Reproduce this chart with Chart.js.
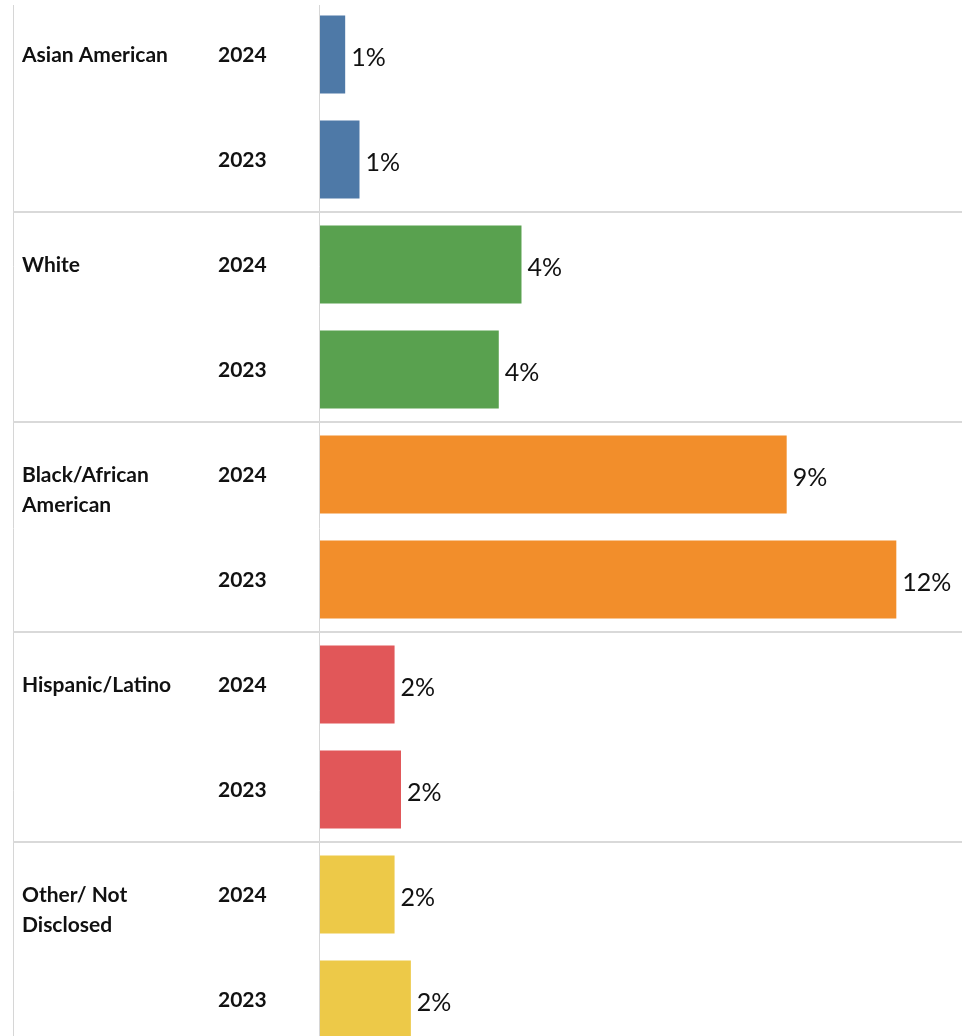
<!DOCTYPE html>
<html>
<head>
<meta charset="utf-8">
<title>Share by race/ethnicity, 2024 vs 2023</title>
<script src="https://cdn.jsdelivr.net/npm/chart.js@4/dist/chart.umd.min.js"></script>
<style>
  html, body { margin: 0; padding: 0; background: #ffffff; }
  #wrap { width: 962px; height: 1036px; overflow: hidden; position: relative; }
  canvas { display: block; }
</style>
</head>
<body>
<div id="wrap"><canvas id="chart" width="962" height="1052"></canvas></div>
<script>
// Groups, in display order, with their wrapped label lines
const groups = ['Asian American', 'White', 'Black/African American', 'Hispanic/Latino', 'Other/ Not Disclosed'];
const groupLines = [['Asian American'], ['White'], ['Black/African', 'American'], ['Hispanic/Latino'], ['Other/ Not', 'Disclosed']];
const years = ['2024', '2023'];

// Percent values per year, one entry per group
const values2024 = [0.51, 4.08, 9.45, 1.51, 1.51];
const values2023 = [0.80, 3.62, 11.67, 1.64, 1.84];

const groupColors = ['#4e79a7', '#59a14f', '#f28e2b', '#e15759', '#edc948'];

// Flatten into one row per (group, year)
const rowLabels = [];
const rowValues = [];
const rowColors = [];
groups.forEach((g, i) => {
  rowLabels.push(g + ' ' + years[0]); rowValues.push(values2024[i]); rowColors.push(groupColors[i]);
  rowLabels.push(g + ' ' + years[1]); rowValues.push(values2023[i]); rowColors.push(groupColors[i]);
});

const fmtPct = v => Math.round(v) + '%';

const tablePlugin = {
  id: 'tableDecor',
  beforeDatasetsDraw(chart) {
    const ctx = chart.ctx;
    const y = chart.scales.y;
    const area = chart.chartArea;
    ctx.save();
    // vertical rules: left frame and value axis
    ctx.strokeStyle = '#d6d6d6';
    ctx.lineWidth = 1;
    ctx.beginPath();
    ctx.moveTo(13.5, 5); ctx.lineTo(13.5, chart.height);
    ctx.moveTo(319.5, 5); ctx.lineTo(319.5, chart.height);
    ctx.stroke();
    // horizontal separators between groups
    ctx.strokeStyle = '#d9d9d9';
    ctx.lineWidth = 2;
    for (let g = 0; g < groups.length - 1; g++) {
      const yy = Math.round((y.getPixelForValue(g * 2 + 1) + y.getPixelForValue(g * 2 + 2)) / 2);
      ctx.beginPath();
      ctx.moveTo(13, yy); ctx.lineTo(area.right, yy);
      ctx.stroke();
    }
    ctx.fillStyle = '#111111';
    ctx.font = 'bold 21px Lato';
    ctx.textAlign = 'left';
    ctx.textBaseline = 'middle';
    // group names, first line level with the 2024 row
    groupLines.forEach((lines, g) => {
      const y0 = y.getPixelForValue(g * 2);
      lines.forEach((t, k) => ctx.fillText(t, 22, y0 + 1 + k * 30));
    });
    // year labels for every row
    rowLabels.forEach((_, i) => {
      ctx.fillText(years[i % 2], 218, y.getPixelForValue(i) + 1);
    });
    ctx.restore();
  },
  afterDatasetsDraw(chart) {
    const ctx = chart.ctx;
    const meta = chart.getDatasetMeta(0);
    ctx.save();
    ctx.fillStyle = '#111111';
    ctx.font = '25px Lato';
    ctx.textAlign = 'left';
    ctx.textBaseline = 'middle';
    meta.data.forEach((bar, i) => {
      ctx.fillText(fmtPct(rowValues[i]), bar.x + 6, bar.y + 3);
    });
    ctx.restore();
  }
};

new Chart(document.getElementById('chart'), {
  type: 'bar',
  data: {
    labels: rowLabels,
    datasets: [{
      data: rowValues,
      backgroundColor: rowColors,
      borderWidth: 0,
      categoryPercentage: 1,
      barPercentage: 0.743
    }]
  },
  options: {
    indexAxis: 'y',
    responsive: false,
    animation: false,
    events: [],
    layout: { padding: { top: 2, right: 0, bottom: 0, left: 320 } },
    plugins: { legend: { display: false }, tooltip: { enabled: false } },
    scales: {
      x: { display: false, min: 0, max: 13 },
      y: { display: false }
    }
  },
  plugins: [tablePlugin]
});
</script>
</body>
</html>
